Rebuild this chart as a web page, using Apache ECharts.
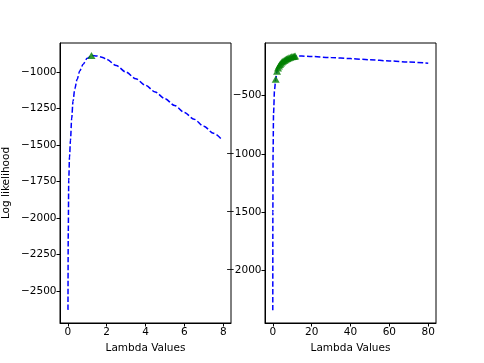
<!DOCTYPE html>
<html>
<head>
<meta charset="utf-8">
<script src="https://cdn.jsdelivr.net/npm/echarts@6/dist/echarts.min.js"></script>
<style>
  html, body { margin: 0; padding: 0; background: #fff; }
  #chart { width: 484px; height: 363px; }
</style>
</head>
<body>
<div id="chart"></div>
<script>
// left panel: lambda 0..8
var leftX = [0.01, 0.025, 0.05, 0.09, 0.14, 0.2, 0.27, 0.36, 0.48, 0.62, 0.79, 1.0, 1.22, 1.5, 1.75, 2.0, 2.5, 3.0, 3.5, 4.0, 4.5, 5.0, 5.5, 6.0, 6.5, 7.0, 7.5, 7.95];
var leftY = [-2630, -2100, -1740, -1580, -1465, -1320, -1200, -1115, -1050, -990, -945, -905, -886, -889, -897, -912, -955, -1000, -1045, -1090, -1136, -1182, -1229, -1276, -1323, -1371, -1419, -1465];
var leftPeakX = [1.22];
var leftPeakY = [-886];

// right panel: lambda 0..80
var rightX = [0.01, 0.05, 0.15, 0.4, 0.9, 1.5, 2.2, 3, 4, 5, 6, 7, 8, 9, 10, 12, 15, 20, 30, 40, 50, 60, 70, 80];
var rightY = [-2343, -1500, -1000, -650, -450, -360, -290, -250, -225, -207, -194, -184, -176, -170, -165, -160, -160, -164, -173, -182, -192, -202, -212, -222];
var pathX = [1.5, 2.2, 2.7, 3.2, 3.7, 4.2, 4.7, 5.2, 5.8, 6.4, 7.0, 7.6, 8.3, 9.0, 9.7, 10.4, 11.0, 11.5];
var pathY = [-360, -290, -262, -245, -232, -221, -212, -205, -198, -192, -186, -181, -175, -171, -167, -164, -162, -160];

var xTicksL = [0, 2, 4, 6, 8];
var xTicksR = [0, 20, 40, 60, 80];
var yTicksL = [-2500, -2250, -2000, -1750, -1500, -1250, -1000];
var yTicksR = [-2000, -1500, -1000, -500];

function pairs(xs, ys) {
    return xs.map(function (x, i) { return [x, ys[i]]; });
}
function minus(v) {
    return String(v).replace('-', '\u2212');
}

var font = 'DejaVu Sans';
var txt = { color: '#000', fontFamily: font, fontSize: 10.5 };

function xAxisOf(grid, lo, hi, ticks) {
    return {
        type: 'value', gridIndex: grid, min: lo, max: hi,
        name: 'Lambda Values', nameLocation: 'middle', nameGap: 20,
        nameTextStyle: txt,
        splitLine: { show: false },
        axisLine: { onZero: false, lineStyle: { color: '#000', width: 1 } },
        axisTick: { inside: false, length: 3.5, customValues: ticks, lineStyle: { color: '#000' } },
        axisLabel: Object.assign({ margin: 3.5, customValues: ticks, formatter: minus }, txt)
    };
}
function yAxisOf(grid, lo, hi, ticks, name) {
    return {
        type: 'value', gridIndex: grid, min: lo, max: hi,
        name: name, nameLocation: 'middle', nameGap: 48,
        nameTextStyle: txt,
        splitLine: { show: false },
        axisLine: { onZero: false, lineStyle: { color: '#000', width: 1 } },
        axisTick: { inside: false, length: 3.5, customValues: ticks, lineStyle: { color: '#000' } },
        axisLabel: Object.assign({ margin: 3.5, customValues: ticks, formatter: minus }, txt)
    };
}

var dash = { color: '#0000ff', width: 1.5, type: [5.5, 2.4] };
var tri = { color: '#008000' };

var chart = echarts.init(document.getElementById('chart'), null, { renderer: 'canvas' });
chart.setOption({
    animation: false,
    backgroundColor: '#fff',
    grid: [
        { left: 60, right: 253, top: 43, bottom: 40, show: true, borderColor: '#000', borderWidth: 1 },
        { left: 265, right: 48, top: 43, bottom: 40, show: true, borderColor: '#000', borderWidth: 1 }
    ],
    xAxis: [
        xAxisOf(0, -0.4, 8.4, xTicksL),
        xAxisOf(1, -4, 84, xTicksR)
    ],
    yAxis: [
        yAxisOf(0, -2720, -800, yTicksL, 'Log likelihood'),
        yAxisOf(1, -2452, -48, yTicksR, '')
    ],
    series: [
        { type: 'line', xAxisIndex: 0, yAxisIndex: 0, data: pairs(leftX, leftY), smooth: 0.3, smoothMonotone: 'x', showSymbol: false, lineStyle: dash },
        { type: 'scatter', xAxisIndex: 0, yAxisIndex: 0, data: pairs(leftPeakX, leftPeakY), symbol: 'triangle', symbolSize: [8, 7], itemStyle: tri, z: 5 },
        { type: 'line', xAxisIndex: 1, yAxisIndex: 1, data: pairs(rightX, rightY), smooth: 0.3, smoothMonotone: 'x', showSymbol: false, lineStyle: dash },
        { type: 'scatter', xAxisIndex: 1, yAxisIndex: 1, data: pairs(pathX, pathY), symbol: 'triangle', symbolSize: [8, 7], itemStyle: tri, z: 5 }
    ]
});
</script>
</body>
</html>
